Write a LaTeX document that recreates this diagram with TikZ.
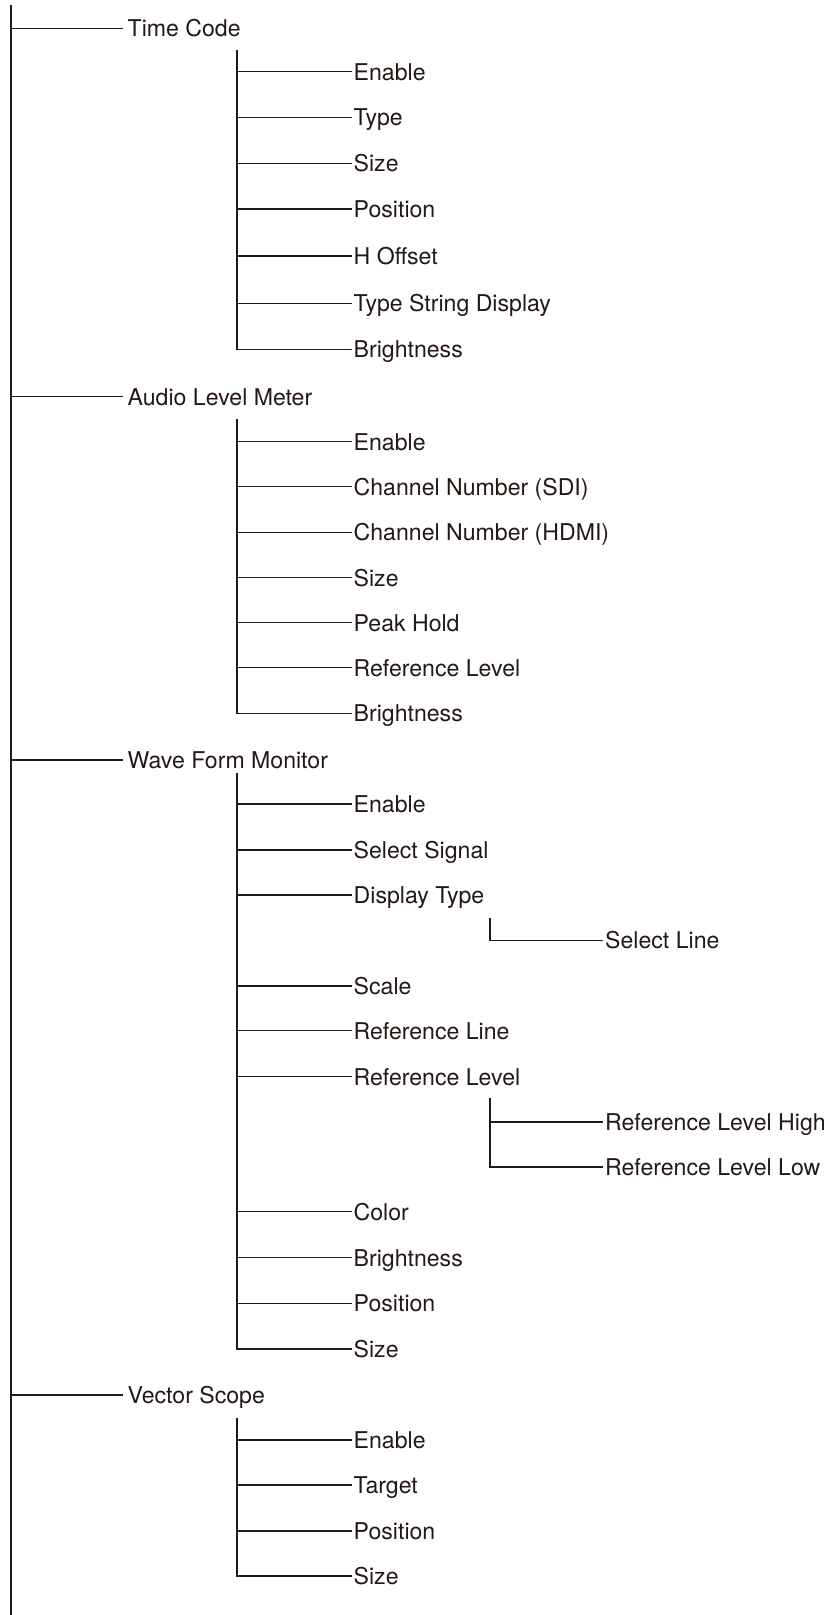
\documentclass[tikz,border=0pt]{standalone}
\usepackage{fontspec}
\setmainfont{TeX Gyre Heros}
\definecolor{ink}{HTML}{231815}
\begin{document}
\begin{tikzpicture}[x=1pt,y=-1pt]
\tikzset{
  item/.style={anchor=west, inner xsep=2pt, inner ysep=0pt, text height=16.8pt, text depth=0pt,
    font=\fontsize{23.1}{27}\selectfont, text=ink},
  topitem/.style={item, inner xsep=4.5pt},
  link/.style={draw=ink, line width=1.4pt, line join=miter},
}
\useasboundingbox (0,0) rectangle (827,1615);

% root spine
\coordinate (r-top) at (11,5);
\coordinate (r-bot) at (11,1615);

% level 1
\node[topitem] (tc)  at (123,28.3)  {Time Code};
\node[topitem] (alm) at (123,396.7) {Audio Level Meter};
\node[topitem] (wfm) at (123,760)   {Wave Form Monitor};
\node[topitem] (vs)  at (123,1395)  {Vector Scope};

% Time Code children
\coordinate (tc-s) at (237,50);
\node[item] (tc1) at (351.5,71.7)  {Enable};
\node[item] (tc2) at (351.5,117.3) {Type};
\node[item] (tc3) at (351.5,163.3) {Size};
\node[item] (tc4) at (351.5,209)   {Position};
\node[item] (tc5) at (351.5,256)   {H Offset};
\node[item] (tc6) at (351.5,303.3) {Type String Display};
\node[item] (tc7) at (351.5,349.3) {Brightness};

% Audio Level Meter children
\coordinate (alm-s) at (237,419.3);
\node[item] (alm1) at (351.5,441.7) {Enable};
\node[item] (alm2) at (351.5,486.7) {Channel Number (SDI)};
\node[item] (alm3) at (351.5,532.3) {Channel Number (HDMI)};
\node[item] (alm4) at (351.5,577.7) {Size};
\node[item] (alm5) at (351.5,622.7) {Peak Hold};
\node[item] (alm6) at (351.5,667.7) {Reference Level};
\node[item] (alm7) at (351.5,713.3) {Brightness};

% Wave Form Monitor children
\coordinate (wfm-s) at (237,773.3);
\node[item] (wfm1)  at (351.5,804)    {Enable};
\node[item] (wfm2)  at (351.5,850)    {Select Signal};
\node[item] (wfm3)  at (351.5,895)    {Display Type};
\node[item] (wfm4)  at (351.5,986)    {Scale};
\node[item] (wfm5)  at (351.5,1030.7) {Reference Line};
\node[item] (wfm6)  at (351.5,1076.7) {Reference Level};
\node[item] (wfm7)  at (351.5,1211.7) {Color};
\node[item] (wfm8)  at (351.5,1257.7) {Brightness};
\node[item] (wfm9)  at (351.5,1303.3) {Position};
\node[item] (wfm10) at (351.5,1349)   {Size};

% level 3
\coordinate (dt-s) at (490,918);
\node[item] (dt1) at (603,940.5) {Select Line};
\coordinate (rl-s) at (490,1098);
\node[item] (rl1) at (603,1122) {Reference Level High};
\node[item] (rl2) at (603,1167) {Reference Level Low};

% Vector Scope children
\coordinate (vs-s) at (237,1417.7);
\node[item] (vs1) at (351.5,1440) {Enable};
\node[item] (vs2) at (351.5,1485) {Target};
\node[item] (vs3) at (351.5,1531) {Position};
\node[item] (vs4) at (351.5,1576) {Size};

% connectors
\draw[link] (r-top) -- (r-bot);
\foreach \n in {tc,alm,wfm,vs} \draw[link] (r-top |- \n.west) -- (\n.west);

\draw[link] (tc-s) -- (tc-s |- tc7.west) -- (tc7.west);
\foreach \n in {tc1,tc2,tc3,tc4,tc5,tc6} \draw[link] (tc-s |- \n.west) -- (\n.west);

\draw[link] (alm-s) -- (alm-s |- alm7.west) -- (alm7.west);
\foreach \n in {alm1,alm2,alm3,alm4,alm5,alm6} \draw[link] (alm-s |- \n.west) -- (\n.west);

\draw[link] (wfm-s) -- (wfm-s |- wfm10.west) -- (wfm10.west);
\foreach \n in {wfm1,wfm2,wfm3,wfm4,wfm5,wfm6,wfm7,wfm8,wfm9} \draw[link] (wfm-s |- \n.west) -- (\n.west);

\draw[link] (dt-s) -- (dt-s |- dt1.west) -- (dt1.west);
\draw[link] (rl-s) -- (rl-s |- rl2.west) -- (rl2.west);
\draw[link] (rl-s |- rl1.west) -- (rl1.west);

\draw[link] (vs-s) -- (vs-s |- vs4.west) -- (vs4.west);
\foreach \n in {vs1,vs2,vs3} \draw[link] (vs-s |- \n.west) -- (\n.west);
\end{tikzpicture}
\end{document}
